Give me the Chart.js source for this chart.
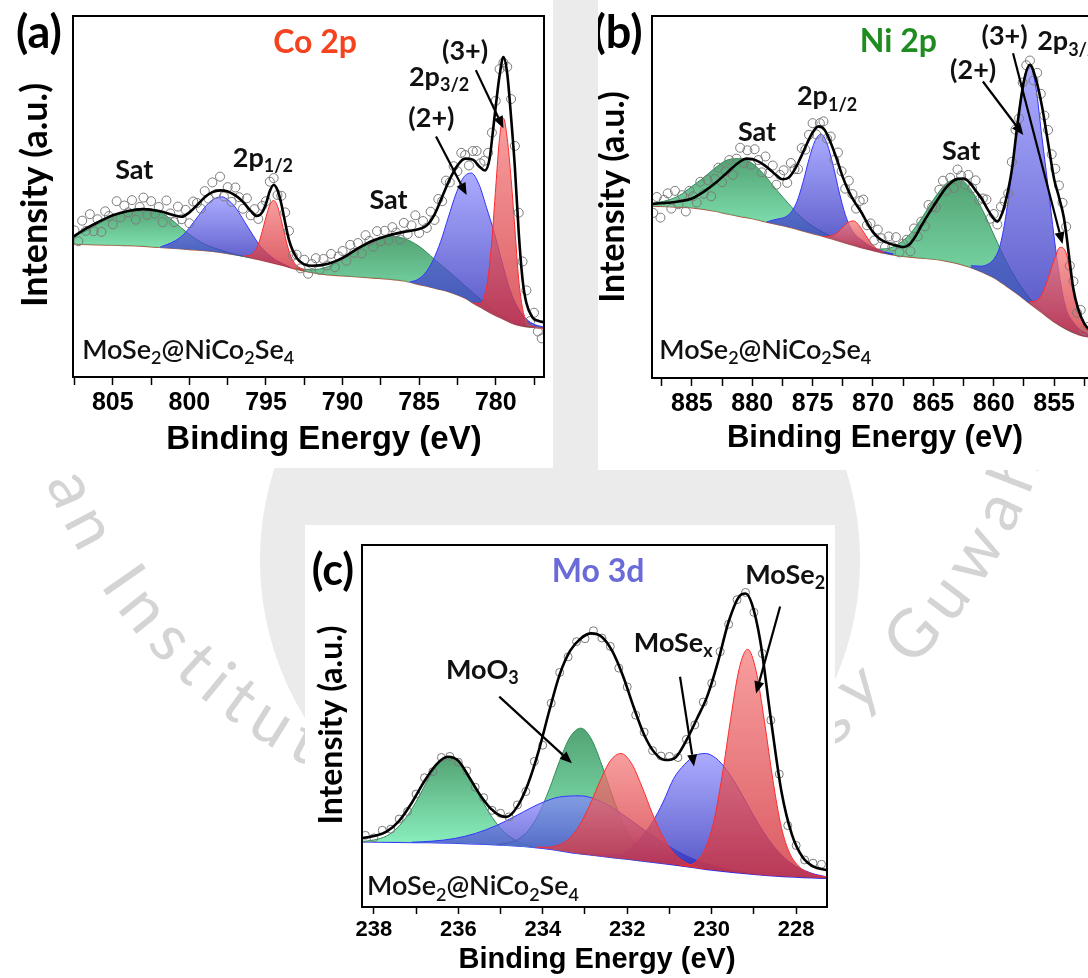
<!DOCTYPE html>
<html>
<head>
<meta charset="utf-8">
<script src="https://cdn.jsdelivr.net/npm/chart.js@4.4.1/dist/chart.umd.min.js"></script>
<style>
html, body { margin: 0; padding: 0; overflow: hidden; background: #fff; }
#page { position: relative; width: 1088px; height: 978px; overflow: hidden; }
#wm { position: absolute; left: 0; top: 0; }
canvas.panel { position: absolute; background: #fff; }
</style>
</head>
<body>
<div id="page">
  <canvas id="wm" width="1088" height="978"></canvas>
  <canvas id="co" class="panel" width="553" height="468" style="left:0;top:0"></canvas>
  <canvas id="ni" class="panel" width="530" height="470" style="left:598px;top:0"></canvas>
  <canvas id="mo" class="panel" width="530" height="453" style="left:305px;top:525px"></canvas>
</div>
<script>
// ---------- Co 2p ----------
const coTicks = [805, 800, 795, 790, 785, 780];

const coBgE = [807.6, 806, 805, 804, 803, 802, 801, 800, 799, 798, 797, 796, 795, 794, 793, 792, 791, 790, 789, 788, 787, 786, 785, 784, 783, 782, 781.5, 781, 780.5, 780, 779.5, 779, 778.5, 778, 777.5, 776.85];
const coBg = [36.8, 36.6, 36.5, 36.4, 36.2, 35.9, 35.6, 35.3, 35.0, 34.5, 33.8, 33.0, 32.0, 31.0, 29.8, 28.9, 28.3, 28.0, 27.7, 27.4, 27.1, 26.6, 25.6, 24.6, 23.5, 21.8, 20.5, 19.3, 18.1, 17.0, 16.0, 15.0, 14.3, 13.9, 13.7, 13.5];

const coSat1E = [807.6, 807, 806.5, 806, 805.5, 805, 804.5, 804, 803.5, 803, 802.5, 802, 801.5, 801, 800.5, 800, 799.5, 799, 798.5, 798, 797.5, 797, 796.5, 796];
const coSat1 = [38.8, 40.0, 41.0, 42.3, 43.5, 44.6, 45.5, 46.1, 46.6, 46.7, 46.5, 45.8, 44.6, 43.0, 41.2, 39.5, 38.0, 36.8, 35.9, 35.2, 34.5, 33.9, 33.4, 33.0];

const coP12bE = [801.9, 801.4, 800.9, 800.4, 799.9, 799.4, 798.9, 798.4, 797.9, 797.4, 796.9, 796.4, 795.9, 795.4, 794.9, 794.4, 793.9, 793.4];
const coP12b = [36.0, 36.8, 37.8, 39.4, 41.9, 44.7, 47.5, 49.3, 49.9, 48.8, 46.4, 43.0, 39.6, 36.4, 34.2, 32.5, 31.4, 30.3];

const coP12rE = [796.5, 796, 795.75, 795.5, 795.25, 795, 794.75, 794.5, 794.25, 794, 793.75, 793.5, 793.25, 793, 792.5];
const coP12r = [33.5, 33.8, 34.7, 36.8, 40.3, 44.3, 47.7, 48.9, 47.3, 43.4, 38.9, 34.9, 32.3, 30.9, 29.6];

const coSat2E = [793, 792, 791, 790, 789, 788, 787, 786, 785, 784, 783, 782, 781, 780, 779, 778, 777];
const coSat2 = [30.1, 29.7, 30.5, 32.8, 35.5, 37.9, 39.0, 38.4, 36.2, 32.6, 29.0, 25.2, 21.5, 18.1, 15.3, 14.0, 13.7];

const coP32bE = [785.6, 785.1, 784.6, 784.1, 783.6, 783.1, 782.6, 782.1, 781.6, 781.1, 780.6, 780.1, 779.6, 779.1, 778.6, 778.1, 777.6, 776.85];
const coP32b = [26.3, 27.0, 28.8, 32.3, 37.5, 44.2, 50.7, 55.3, 56.5, 53.4, 46.9, 40.0, 32.0, 24.5, 19.5, 16.5, 14.8, 13.8];

const coP32rE = [781.5, 781, 780.75, 780.5, 780.25, 780, 779.75, 779.5, 779.25, 779, 778.75, 778.5, 778.25, 778, 777.5, 776.85];
const coP32r = [20.6, 20.3, 22.2, 27.6, 38.1, 52.6, 66.3, 71.7, 66.0, 55.0, 41.0, 27.0, 19.0, 15.5, 13.9, 13.5];

const coFitE = [807.6, 807, 806, 805, 804, 803, 802, 801, 800.5, 800, 799.5, 799, 798.5, 798, 797.5, 797, 796.5, 796, 795.6, 795.25, 795, 794.75, 794.5, 794.25, 794, 793.75, 793.5, 793, 792.5, 792, 791, 790, 789, 788, 787, 786, 785, 784.5, 784, 783.5, 783, 782.5, 782, 781.5, 781, 780.7, 780.4, 780.2, 780, 779.75, 779.5, 779.25, 779, 778.75, 778.5, 778.25, 778, 777.6, 777.2, 776.85];
const coFit = [38.8, 40.5, 42.8, 44.8, 46.0, 46.5, 46.0, 44.8, 44.4, 45.6, 47.6, 49.8, 51.2, 51.7, 51.4, 50.3, 48.5, 46.0, 44.6, 45.6, 48.0, 51.5, 53.2, 51.8, 48.0, 42.8, 38.0, 33.0, 31.2, 30.8, 31.3, 33.0, 35.6, 37.8, 39.2, 40.2, 41.0, 42.0, 45.0, 49.9, 54.8, 58.6, 60.5, 60.2, 58.0, 57.2, 60.5, 67.5, 75.0, 83.5, 88.6, 84.0, 72.0, 58.0, 40.0, 27.0, 20.5, 16.5, 15.5, 15.2];

// measured scan, 807.5 eV downwards in 0.25 eV steps
const coScanStart = 807.5, coScanStep = 0.25;
const coScan = [40.6, 37.6, 43.3, 40.5, 45.1, 40.4, 43.7, 40.2, 45.9, 44.6,
  42.3, 48.7, 44.2, 47.5, 45.6, 49.0, 43.6, 47.1, 49.7, 44.9,
  48.7, 45.2, 47.1, 42.9, 48.9, 45.3, 42.9, 47.2, 43.7, 46.3,
  42.6, 48.6, 48.2, 46.6, 51.5, 49.4, 53.9, 50.7, 55.5, 50.0,
  52.6, 48.5, 52.5, 49.8, 46.6, 49.5, 44.8, 46.5, 43.8, 47.4,
  48.7, 54.1, 55.1, 50.4, 50.2, 45.6, 40.5, 33.6, 33.9, 30.1,
  32.5, 28.6, 31.3, 32.9, 29.7, 32.7, 30.9, 34.1, 30.4, 33.4,
  34.9, 32.2, 36.6, 34.4, 37.1, 34.2, 39.3, 37.7, 36.1, 40.4,
  37.6, 40.5, 37.9, 41.5, 40.0, 38.1, 42.7, 39.6, 42.0, 44.8,
  39.9, 43.2, 41.3, 45.8, 43.5, 49.3, 48.7, 54.4, 53.9, 58.4,
  57.0, 62.1, 61.5, 58.6, 62.6, 62.6, 59.2, 59.9, 62.1, 67.7,
  76.5, 85.3, 87.1, 85.9, 77.0, 64.0, 45.5, 32.0, 24.0, 15.5,
  17.8, 12.6, 10.7];

// ---------- Ni 2p ----------
const niTicks = [885, 880, 875, 870, 865, 860, 855];

const niBgE = [888.3, 887, 885, 883, 882.5, 881, 880, 879, 877, 876, 875, 874, 873, 872, 871, 870, 869, 868, 867, 866, 865, 864, 863, 862, 861, 860, 859, 858, 857, 856, 855, 854, 853, 852, 851, 850.37];
const niBg = [47.5, 47.3, 47.0, 46.0, 45.6, 44.6, 44.0, 43.2, 41.7, 40.8, 39.9, 39.0, 38.0, 37.0, 36.0, 35.2, 34.4, 33.8, 33.4, 33.1, 32.8, 32.3, 31.6, 30.6, 29.3, 27.7, 25.5, 23.1, 20.5, 18.0, 15.5, 13.5, 12.0, 11.2, 10.6, 10.4];

const niSat1E = [888.3, 887, 886, 885, 884, 883, 882, 881, 880, 879, 878, 877, 876, 875, 874, 873, 872, 871];
const niSat1 = [48.2, 49.1, 50.5, 52.9, 55.4, 58.2, 60.3, 60.6, 59.3, 56.1, 52.0, 48.2, 44.6, 41.9, 40.0, 38.4, 37.3, 36.2];

const niP12bE = [878.8, 878.3, 877.8, 877.3, 876.8, 876.3, 875.8, 875.3, 874.8, 874.3, 873.8, 873.3, 872.8, 872.3, 871.8, 871.3, 870.8, 870.3, 869.3, 868.3];
const niP12b = [43.1, 43.6, 44.0, 44.4, 45.7, 48.7, 54.0, 60.4, 65.5, 67.4, 64.7, 58.7, 51.4, 45.2, 41.2, 39.0, 37.8, 36.6, 35.1, 34.3];

const niP12rE = [874.1, 873.6, 873.1, 872.6, 872.1, 871.6, 871.1, 870.6, 870.1, 869.6, 869.1];
const niP12r = [39.1, 39.2, 39.8, 41.3, 42.9, 43.4, 41.9, 39.4, 37.0, 35.5, 34.6];

const niSat2E = [870.9, 869.9, 868.9, 867.9, 866.9, 865.9, 864.9, 863.9, 862.9, 861.9, 860.9, 859.9, 858.9, 857.9, 856.9, 855.9, 854.9, 853.9, 852.9];
const niSat2 = [36.1, 35.6, 35.7, 37.0, 39.9, 44.5, 49.7, 53.8, 55.0, 52.1, 46.2, 38.9, 31.8, 26.0, 21.5, 18.3, 15.5, 13.3, 12.0];

const niP32bE = [861.9, 861, 860.5, 860, 859.5, 859, 858.5, 858, 857.5, 857, 856.5, 856, 855.5, 855, 854.5, 854, 853.5, 853, 852, 850.37];
const niP32b = [31.0, 30.9, 31.4, 32.8, 36.3, 44.7, 57.1, 71.3, 82.6, 86.3, 80.1, 66.3, 53.0, 39.0, 27.0, 19.0, 15.8, 13.8, 11.9, 10.6];

const niP32rE = [857, 856.5, 856, 855.5, 855, 854.5, 854, 853.5, 853, 852.5, 852, 851.5, 851, 850.37];
const niP32r = [21.1, 21.3, 23.2, 27.5, 32.5, 36.1, 34.5, 26.0, 19.0, 14.5, 12.5, 11.5, 11.0, 10.6];

const niFitE = [888.3, 887, 886, 885, 884, 883, 882, 881, 880.5, 880, 879, 878, 877.5, 877, 876.5, 876, 875.5, 875, 874.5, 874, 873.5, 873, 872.5, 872, 871.5, 871, 870.5, 870, 869.5, 869, 868, 867.5, 867, 866.5, 866, 865.5, 865, 864.5, 864, 863.5, 863, 862.5, 862, 861.5, 861, 860.5, 860, 859.7, 859.3, 859, 858.5, 858, 857.5, 857, 856.5, 856, 855.5, 855, 854.6, 854.2, 854, 853.7, 853.4, 853, 852.5, 852, 851.5, 851, 850.37];
const niFit = [48.1, 48.4, 48.8, 49.6, 51.5, 54.0, 57.0, 59.8, 60.6, 60.5, 58.8, 56.0, 54.9, 55.3, 57.5, 60.8, 64.5, 67.8, 69.5, 68.5, 65.0, 60.5, 55.5, 51.5, 48.5, 46.0, 43.0, 40.3, 38.6, 37.6, 36.5, 36.2, 36.8, 39.0, 42.0, 44.8, 47.4, 50.0, 52.4, 54.1, 55.0, 55.1, 54.0, 51.8, 49.5, 46.6, 44.0, 43.2, 45.5, 49.0, 57.5, 71.0, 82.0, 86.5, 82.5, 75.0, 65.0, 55.0, 50.0, 44.5, 40.0, 32.0, 24.5, 19.0, 15.0, 13.0, 12.0, 11.3, 10.8];

// measured scan, 888.2 eV downwards in 0.3 eV steps
const niScanStart = 888.2, niScanStep = 0.3;
const niScan = [45.6, 50.0, 44.3, 49.2, 51.0, 46.8, 51.7, 48.0, 50.5, 46.0,
  51.7, 50.2, 48.5, 54.2, 50.9, 54.7, 50.2, 55.0, 58.1, 54.1,
  57.1, 60.2, 56.1, 60.6, 63.6, 59.4, 62.9, 58.9, 63.2, 60.2,
  56.8, 61.2, 56.6, 58.7, 53.4, 56.1, 57.4, 53.9, 59.4, 57.7,
  57.7, 63.5, 63.1, 67.2, 70.4, 67.3, 70.4, 70.9, 66.1, 66.7,
  60.2, 62.3, 57.1, 52.3, 54.5, 50.8, 46.8, 48.9, 49.3, 42.2,
  42.7, 38.0, 41.0, 38.6, 36.2, 39.1, 36.3, 38.9, 34.7, 37.1,
  38.2, 35.0, 41.3, 39.1, 43.2, 41.9, 47.8, 47.2, 47.1, 52.0,
  54.5, 51.8, 55.3, 52.5, 57.6, 55.9, 53.4, 56.1, 52.4, 54.6,
  49.2, 49.6, 49.3, 44.0, 45.3, 42.4, 47.3, 48.8, 51.0, 59.7,
  68.6, 71.7, 81.6, 86.4, 87.7, 82.2, 84.3, 78.5, 72.5, 68.5,
  61.8, 57.8, 53.2, 48.4, 41.8, 31.0, 26.7, 18.0, 18.8, 13.2,
  14.1];

// ---------- Mo 3d ----------
const moTicks = [238, 236, 234, 232, 230, 228];

const moBgE = [238.28, 237, 236, 235, 234, 233.2, 232, 231, 230, 229, 228.3, 227.27];
const moBg = [18.0, 17.8, 17.6, 17.1, 16.2, 14.8, 13.2, 11.8, 10.2, 9.0, 8.4, 7.9];

const moG1E = [238.28, 238, 237.7, 237.45, 237.2, 236.95, 236.7, 236.45, 236.2, 235.95, 235.7, 235.45, 235.2, 234.95, 234.7, 234.45, 234.2];
const moG1 = [18.1, 18.5, 19.6, 21.8, 25.3, 30.1, 35.6, 39.8, 41.5, 39.7, 35.4, 29.7, 24.8, 21.1, 18.8, 17.4, 16.6];

const moG2E = [235.1, 234.85, 234.6, 234.35, 234.1, 233.85, 233.6, 233.35, 233.1, 232.85, 232.6, 232.35, 232.1, 231.85, 231.6, 231.35, 231.1];
const moG2 = [17.3, 17.6, 18.6, 21.0, 25.6, 32.4, 40.4, 47.0, 49.4, 46.4, 39.2, 30.6, 23.0, 17.8, 14.9, 13.3, 12.4];

const moR1E = [234.15, 233.9, 233.65, 233.4, 233.15, 232.9, 232.65, 232.4, 232.15, 231.9, 231.65, 231.4, 231.15, 230.9, 230.65, 230.4, 230.15];
const moR1 = [16.5, 16.5, 17.0, 18.6, 22.2, 27.8, 34.6, 40.4, 42.4, 39.7, 33.2, 25.7, 19.3, 14.9, 12.5, 11.2, 10.5];

const moB1E = [237.1, 236.6, 236.1, 235.6, 235.1, 234.6, 234.1, 233.6, 233.1, 232.6, 232.1, 231.6, 231.1, 230.6, 230.1, 229.6, 229.1];
const moB1 = [17.9, 18.2, 18.9, 20.3, 22.5, 25.4, 28.4, 30.4, 30.7, 29.0, 25.5, 21.3, 17.4, 14.1, 11.8, 10.3, 9.3];

const moB2E = [233.15, 232.65, 232.15, 231.9, 231.65, 231.4, 231.15, 230.9, 230.65, 230.4, 230.15, 229.9, 229.65, 229.4, 229.15, 228.9, 228.65, 228.4, 228.15, 227.65, 227.27];
const moB2 = [15.0, 14.4, 14.5, 16.5, 19.5, 23.5, 29.0, 35.5, 39.3, 41.8, 42.4, 41.1, 37.9, 33.4, 28.2, 23.1, 18.6, 15.0, 12.3, 9.4, 8.3];

const moR2E = [230.75, 230.55, 230.35, 230.15, 229.95, 229.75, 229.55, 229.35, 229.15, 228.95, 228.75, 228.55, 228.35, 228.15, 227.95, 227.75, 227.5, 227.27];
const moR2 = [11.5, 11.6, 12.7, 16.2, 23.7, 36.4, 52.1, 65.8, 71.2, 65.3, 51.2, 35.0, 22.0, 14.8, 11.4, 9.7, 8.7, 8.2];

const moFitE = [238.28, 238, 237.7, 237.4, 237.1, 236.8, 236.5, 236.25, 236, 235.75, 235.5, 235.25, 235, 234.85, 234.6, 234.35, 234.1, 233.85, 233.6, 233.35, 233.1, 232.85, 232.6, 232.35, 232.1, 231.85, 231.6, 231.35, 231.1, 230.85, 230.6, 230.35, 230.1, 229.85, 229.6, 229.35, 229.2, 229.05, 228.85, 228.6, 228.35, 228.1, 227.85, 227.6, 227.27];
const moFit = [19.0, 19.6, 20.8, 23.8, 28.8, 34.8, 39.6, 41.5, 40.4, 36.0, 31.2, 27.4, 25.2, 24.9, 27.8, 34.0, 43.0, 54.0, 64.2, 70.8, 74.2, 75.6, 74.6, 70.6, 63.8, 55.3, 47.6, 42.6, 40.6, 41.4, 46.0, 52.0, 58.4, 67.8, 78.8, 85.8, 86.6, 83.8, 73.5, 52.0, 32.0, 20.0, 13.8, 11.2, 10.2];

// measured scan, 238.2 eV downwards in 0.2 eV steps
const moScanStart = 238.2, moScanStep = 0.2;
const moScan = [19.8, 19.1, 21.2, 21.5, 24.3, 26.4, 31.2, 35.7, 37.4, 41.3,
  41.6, 40.0, 37.6, 33.1, 30.2, 26.7, 25.9, 24.9, 28.2, 31.9,
  40.2, 44.7, 56.3, 64.8, 69.1, 73.3, 74.1, 76.3, 74.3, 72.0,
  66.0, 60.8, 53.0, 48.3, 43.2, 41.7, 41.6, 41.3, 46.3, 50.3,
  56.6, 61.8, 70.5, 78.1, 84.9, 86.9, 81.4, 70.0, 51.6, 36.7,
  22.5, 17.0, 13.0, 12.1, 11.8];

// ---------- labels and arrows (energy, intensity) ----------
const coNotes = [
  { text: 'Co 2p', e: 791.8, i: 92.5, size: 32, color: '#f5421f' },
  { text: 'Sat', e: 803.6, i: 57.3 },
  { text: '2p_{1/2}', e: 795.2, i: 60.7 },
  { text: 'Sat', e: 787.0, i: 49.0 },
  { text: '2p_{3/2}', e: 783.7, i: 83.1 },
  { text: '(3+)', e: 782.0, i: 90.1 },
  { text: '(2+)', e: 784.2, i: 71.7 },
  { text: 'MoSe_{2}@NiCo_{2}Se_{4}', e: 807.0, i: 7.5, align: 'left', size: 27, weight: '600' }
];
const coArrows = [[781.3, 85.0, 779.5, 68.9], [783.9, 66.6, 781.9, 50.4]];

const niNotes = [
  { text: 'Ni 2p', e: 867.9, i: 92.9, size: 32, color: '#1f8c1f' },
  { text: 'Sat', e: 879.6, i: 68.0 },
  { text: '2p_{1/2}', e: 873.8, i: 77.7 },
  { text: 'Sat', e: 862.7, i: 62.5 },
  { text: '(2+)', e: 861.7, i: 85.0 },
  { text: '(3+)', e: 859.1, i: 94.3 },
  { text: '2p_{3/2}', e: 856.4, i: 92.9, align: 'left' },
  { text: 'MoSe_{2}@NiCo_{2}Se_{4}', e: 887.7, i: 7.7, align: 'left', size: 27, weight: '600' }
];
const niArrows = [[860.9, 81.9, 857.55, 67.1], [858.4, 89.7, 854.3, 37.0]];

const moNotes = [
  { text: 'Mo 3d', e: 232.69, i: 92.6, size: 32, color: '#6a6ad8' },
  { text: 'MoSe_{2}', e: 228.26, i: 91.7 },
  { text: 'MoO_{3}', e: 235.43, i: 65.5 },
  { text: 'MoSe_{x}', e: 230.91, i: 72.8 },
  { text: 'MoSe_{2}@NiCo_{2}Se_{4}', e: 238.16, i: 5.6, align: 'left', size: 27, weight: '600' }
];
const moArrows = [[235.03, 58.1, 233.31, 39.7], [230.75, 63.6, 230.42, 38.8], [228.38, 83.0, 228.95, 59.0]];

// ---------- styling ----------
const GREEN = { line: '#2e8b57', top: 'rgba(40,140,80,0.8)', bottom: 'rgba(100,235,170,0.75)' };
const BLUE = { line: '#3333ff', top: 'rgba(135,135,255,0.7)', bottom: 'rgba(40,40,180,0.8)' };
const RED = { line: '#ff2a2a', top: 'rgba(245,125,125,0.75)', bottom: 'rgba(210,50,60,0.8)' };
const NOTE_FONT = 'Lato';
const AXIS_FONT = '"Liberation Sans", Arial, sans-serif';

function pts(es, ys) {
  return es.map((e, i) => ({ x: e, y: ys[i] }));
}
function scanPts(start, step, ys) {
  return ys.map((y, i) => ({ x: +(start - i * step).toFixed(2), y }));
}

function peak(es, ys, col, bgIndex) {
  const hi = Math.max(...ys), lo = Math.min(...ys);
  return {
    data: pts(es, ys),
    borderColor: col.line,
    borderWidth: 1,
    pointRadius: 0,
    cubicInterpolationMode: 'monotone',
    fill: bgIndex,
    backgroundColor: c => {
      const chart = c.chart;
      if (!chart.chartArea) return col.top;
      const y = chart.scales.y;
      const g = chart.ctx.createLinearGradient(0, y.getPixelForValue(hi), 0, y.getPixelForValue(lo));
      g.addColorStop(0, col.top);
      g.addColorStop(1, col.bottom);
      return g;
    }
  };
}

function splitSub(s) {
  const out = [];
  s.split(/(_\{[^}]*\})/).forEach(t => {
    if (!t) return;
    if (t.startsWith('_{')) out.push({ t: t.slice(2, -1), sub: true });
    else out.push({ t, sub: false });
  });
  return out;
}

function drawRich(ctx, s, x, y, size, color, align, weight) {
  const parts = splitSub(s);
  const big = `${weight} ${size}px ${NOTE_FONT}`;
  const small = `${weight} ${Math.round(size * 0.68)}px ${NOTE_FONT}`;
  let w = 0;
  parts.forEach(p => {
    ctx.font = p.sub ? small : big;
    p.w = ctx.measureText(p.t).width;
    w += p.w;
  });
  let cx = align === 'left' ? x : x - w / 2;
  ctx.fillStyle = color;
  ctx.textAlign = 'left';
  ctx.textBaseline = 'middle';
  parts.forEach(p => {
    ctx.font = p.sub ? small : big;
    ctx.fillText(p.t, cx, p.sub ? y + size * 0.3 : y);
    cx += p.w;
  });
}

function arrow(ctx, x1, y1, x2, y2) {
  const a = Math.atan2(y2 - y1, x2 - x1), head = 12, half = 5;
  const bx = x2 - head * Math.cos(a), by = y2 - head * Math.sin(a);
  ctx.strokeStyle = '#000';
  ctx.fillStyle = '#000';
  ctx.lineWidth = 2.2;
  ctx.beginPath();
  ctx.moveTo(x1, y1);
  ctx.lineTo(bx, by);
  ctx.stroke();
  ctx.beginPath();
  ctx.moveTo(x2, y2);
  ctx.lineTo(bx + half * Math.sin(a), by - half * Math.cos(a));
  ctx.lineTo(bx - half * Math.sin(a), by + half * Math.cos(a));
  ctx.closePath();
  ctx.fill();
}

// frame, labels, arrows, axis titles and panel letter
function decor(p) {
  return {
    id: 'decor',
    afterDraw(chart) {
      const { ctx, chartArea: a, scales: { x, y } } = chart;
      ctx.save();
      ctx.strokeStyle = '#000';
      ctx.lineWidth = 2;
      ctx.strokeRect(a.left, a.top, a.right - a.left, a.bottom - a.top);

      p.notes.forEach(n => drawRich(ctx, n.text, x.getPixelForValue(n.e), y.getPixelForValue(n.i),
        n.size || 27, n.color || '#111', n.align || 'center', n.weight || 'bold'));
      p.arrows.forEach(([e1, i1, e2, i2]) => arrow(ctx,
        x.getPixelForValue(e1), y.getPixelForValue(i1), x.getPixelForValue(e2), y.getPixelForValue(i2)));

      ctx.fillStyle = '#000';
      ctx.textAlign = 'center';
      ctx.textBaseline = 'middle';
      ctx.font = `bold ${p.xTitle[2]}px ${AXIS_FONT}`;
      ctx.fillText('Binding Energy (eV)', p.xTitle[0], p.xTitle[1]);

      ctx.save();
      ctx.translate(p.yTitle[0], p.yTitle[1]);
      ctx.rotate(-Math.PI / 2);
      ctx.font = `bold ${p.yTitle[2]}px ${NOTE_FONT}`;
      ctx.fillText('Intensity (a.u.)', 0, 0);
      ctx.restore();

      ctx.font = `bold ${p.tag[3]}px ${NOTE_FONT}`;
      ctx.fillText(p.tag[0], p.tag[1], p.tag[2]);
      ctx.restore();
    }
  };
}

const panels = [
  {
    id: 'co', xMin: 776.85, xMax: 807.6, step: 2.5, ticks: coTicks, tickSize: 25, tickLen: 8, axisH: 40,
    pad: { left: 73, top: 16, right: 9, bottom: 51 },
    fitE: coFitE, fit: coFit, bgE: coBgE, bg: coBg, bgLine: '#b5523b',
    scan: coScan, scanStart: coScanStart, scanStep: coScanStep, dot: 4.5,
    peaks: [
      { e: coP32rE, v: coP32r, col: RED }, { e: coP12rE, v: coP12r, col: RED },
      { e: coP32bE, v: coP32b, col: BLUE }, { e: coP12bE, v: coP12b, col: BLUE },
      { e: coSat2E, v: coSat2, col: GREEN }, { e: coSat1E, v: coSat1, col: GREEN }
    ],
    notes: coNotes, arrows: coArrows,
    xTitle: [324, 440, 33], yTitle: [35, 195, 36], tag: ['(a)', 39, 33, 45]
  },
  {
    id: 'ni', xMin: 850.37, xMax: 888.3, step: 2.5, ticks: niTicks, tickSize: 25, tickLen: 8, axisH: 40,
    pad: { left: 54, top: 16, right: 18, bottom: 52 },
    fitE: niFitE, fit: niFit, bgE: niBgE, bg: niBg, bgLine: '#b5523b',
    scan: niScan, scanStart: niScanStart, scanStep: niScanStep, dot: 4.5,
    peaks: [
      { e: niP32rE, v: niP32r, col: RED }, { e: niP12rE, v: niP12r, col: RED },
      { e: niP32bE, v: niP32b, col: BLUE }, { e: niP12bE, v: niP12b, col: BLUE },
      { e: niSat2E, v: niSat2, col: GREEN }, { e: niSat1E, v: niSat1, col: GREEN }
    ],
    notes: niNotes, arrows: niArrows,
    xTitle: [277, 438, 31], yTitle: [15, 197, 34], tag: ['(b)', 20, 33, 45]
  },
  {
    id: 'mo', xMin: 227.27, xMax: 238.28, step: 1, ticks: moTicks, tickSize: 22, tickLen: 7, axisH: 36,
    pad: { left: 57, top: 20, right: 8, bottom: 35 },
    fitE: moFitE, fit: moFit, bgE: moBgE, bg: moBg, bgLine: '#2a2aff',
    scan: moScan, scanStart: moScanStart, scanStep: moScanStep, dot: 4,
    peaks: [
      { e: moR2E, v: moR2, col: RED }, { e: moR1E, v: moR1, col: RED },
      { e: moB2E, v: moB2, col: BLUE }, { e: moB1E, v: moB1, col: BLUE },
      { e: moG2E, v: moG2, col: GREEN }, { e: moG1E, v: moG1, col: GREEN }
    ],
    notes: moNotes, arrows: moArrows,
    xTitle: [292, 435, 29], yTitle: [27, 200, 32], tag: ['(c)', 28, 46, 43]
  }
];

function buildDatasets(p) {
  const bgIndex = 2 + p.peaks.length;
  return [
    { data: pts(p.fitE, p.fit), borderColor: '#000', borderWidth: 2.6, pointRadius: 0,
      cubicInterpolationMode: 'monotone', fill: false },
    { data: scanPts(p.scanStart, p.scanStep, p.scan), showLine: false, pointRadius: p.dot,
      pointBorderColor: '#7a7a7a', pointBorderWidth: 1, pointBackgroundColor: 'rgba(255,255,255,0)' },
    ...p.peaks.map(c => peak(c.e, c.v, c.col, bgIndex)),
    { data: pts(p.bgE, p.bg), borderColor: p.bgLine, borderWidth: 1.2, pointRadius: 0,
      cubicInterpolationMode: 'monotone', fill: false }
  ];
}

panels.forEach(p => {
  new Chart(document.getElementById(p.id), {
    type: 'line',
    data: { datasets: buildDatasets(p) },
    options: {
      responsive: false,
      animation: false,
      devicePixelRatio: 1,
      events: [],
      layout: { padding: p.pad },
      plugins: { legend: { display: false }, tooltip: { enabled: false } },
      scales: {
        x: {
          type: 'linear',
          reverse: true,
          min: p.xMin,
          max: p.xMax,
          afterFit: s => { s.height = p.axisH; },
          border: { display: false },
          grid: { drawOnChartArea: false, drawTicks: true, tickLength: p.tickLen, tickColor: '#000', tickWidth: 1.5 },
          ticks: {
            stepSize: p.step,
            includeBounds: false,
            autoSkip: false,
            maxRotation: 0,
            minRotation: 0,
            padding: 3,
            color: '#000',
            font: { family: AXIS_FONT, size: p.tickSize, weight: 'bold' },
            callback: v => (p.ticks.includes(v) ? String(v) : '')
          }
        },
        y: { display: false, min: 0, max: 100 }
      }
    },
    plugins: [decor(p)]
  });
});

// faint institute seal behind the panels
(function drawSeal() {
  const c = document.getElementById('wm').getContext('2d');
  c.fillStyle = '#fff';
  c.fillRect(0, 0, 1088, 978);
  c.fillStyle = '#ebebeb';
  c.beginPath();
  c.arc(560, 560, 300, 0, Math.PI * 2);
  c.fill();
  c.fillRect(553, 0, 45, 480);

  const text = 'Indian Institute of Technology Guwahati';
  const cx = 540, cy = 290, r = 530, gap = 10;
  c.font = '66px Lato';
  c.fillStyle = '#d4d4d4';
  c.textAlign = 'center';
  c.textBaseline = 'alphabetic';
  const chars = [...text];
  const widths = chars.map(ch => c.measureText(ch).width + gap);
  // the "a" of "Indian" sits at about 157 degrees on the seal
  let ang = 157 * Math.PI / 180 + (widths.slice(0, 4).reduce((s, w) => s + w, 0) + widths[4] / 2) / r;
  chars.forEach((ch, k) => {
    const mid = ang - widths[k] / r / 2;
    c.save();
    c.translate(cx + r * Math.cos(mid), cy + r * Math.sin(mid));
    c.rotate(mid - Math.PI / 2);
    c.fillText(ch, 0, 0);
    c.restore();
    ang -= widths[k] / r;
  });
})();
</script>
</body>
</html>
